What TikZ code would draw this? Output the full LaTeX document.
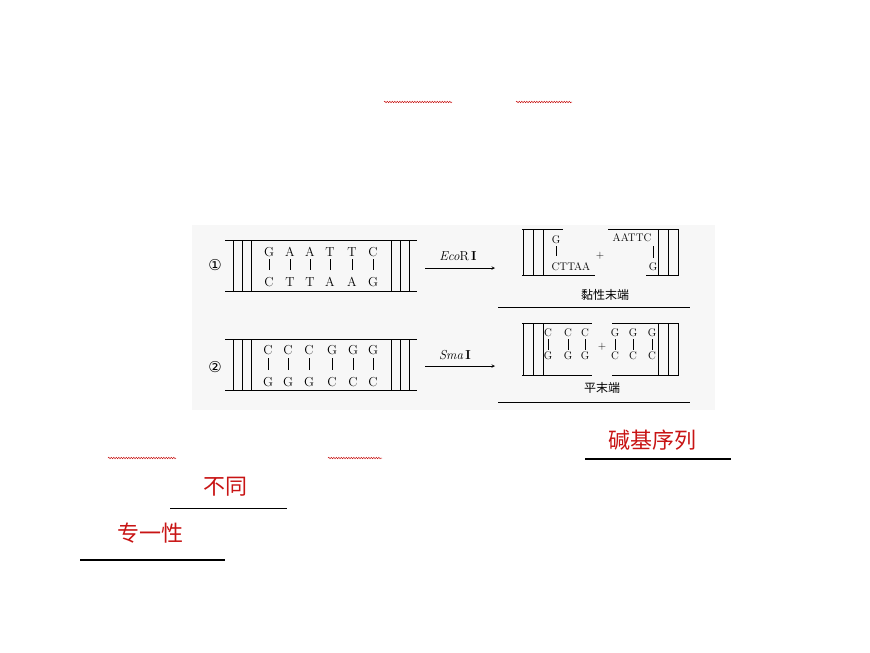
\documentclass[tikz,border=0pt]{standalone}
\usepackage{fontspec}
\newfontfamily\cjk{Noto Sans CJK SC}
\newfontfamily\dejavu{DejaVu Sans}
\usetikzlibrary{decorations.pathmorphing}
\definecolor{ansred}{RGB}{200,20,20}
\tikzset{
  base/.style={font=\fontsize{13}{13}\selectfont, inner sep=0pt},
  smallbase/.style={font=\fontsize{11}{11}\selectfont, inner sep=0pt},
  bond/.style={line width=0.6pt},
  strand/.style={line width=0.9pt},
  answer/.style={text=ansred, font=\cjk\fontsize{22}{22}\selectfont, inner sep=0pt},
  wavy/.style={ansred, line width=0.5pt, decorate, decoration={snake, amplitude=0.7pt, segment length=2.5pt}}
}
\begin{document}
\begin{tikzpicture}[x=1pt, y=-1pt]
\useasboundingbox (0,0) rectangle (870,653);
\fill[black!3] (192,225) rectangle (715,410);
% row 1: EcoR I
\node (c1) at (215,265) {\dejavu\fontsize{15}{15}\selectfont ①};
\draw[strand] (225,240.7) -- (417,240.7);
\draw[strand] (225,291) -- (417,291);
\foreach \x in {233.3,242.7,251.7,391.7,400.7,409.3}
  \draw[bond] (\x,240.7) -- (\x,291);
\foreach \x/\t/\b in {269/G/C,290/A/T,310/A/T,330/T/A,352/T/A,373/C/G} {
  \node[base] at (\x,251.7) {\t};
  \draw[bond] (\x,259) -- (\x,270);
  \node[base] at (\x,281.7) {\b};
}
\node (eco) at (458,256) {\fontsize{13}{13}\selectfont\textit{Eco}R\,\textbf{I}};
\draw[->, >=stealth, line width=0.6pt] (425,268) -- (495,268);
% sticky ends
\draw[strand] (522,229) -- (563,229);
\draw[strand] (522,275.7) -- (595,275.7);
\foreach \x in {523,533,543} \draw[bond] (\x,229) -- (\x,275.7);
\node[smallbase] (g1) at (556,240) {G};
\draw[bond] (g1.south) ++(0,2) -- ++(0,10);
\node[smallbase] (ct) at (571,267) {CTTAA};
\node[smallbase] (p1) at (600,256) {+};
\draw[strand] (608,229) -- (679,229);
\draw[strand] (646,275.7) -- (679,275.7);
\foreach \x in {658,668,678} \draw[bond] (\x,229) -- (\x,275.7);
\node[smallbase] (aa) at (632,238) {AATTC};
\draw[bond] (653,246) -- (653,258);
\node[smallbase] (g2) at (653,267) {G};
\node (sticky) at (605,295) {\cjk\fontsize{12}{12}\selectfont 黏性末端};
\draw[line width=0.9pt] (498,307.7) -- (690,307.7);
% row 2: Sma I
\node (c2) at (215,366.7) {\dejavu\fontsize{15}{15}\selectfont ②};
\draw[strand] (225,339) -- (417,339);
\draw[strand] (225,390) -- (417,390);
\foreach \x in {233.3,242.7,251.7,391.7,400.7,409.3}
  \draw[bond] (\x,339) -- (\x,390);
\foreach \x/\t/\b in {268/C/G,288/C/G,309/C/G,332/G/C,353/G/C,373/G/C} {
  \node[base] at (\x,350) {\t};
  \draw[bond] (\x,358) -- (\x,370);
  \node[base] at (\x,381.7) {\b};
}
\node (sma) at (455,355) {\fontsize{13}{13}\selectfont\textit{Sma}\,\textbf{I}};
\draw[->, >=stealth, line width=0.6pt] (425,366) -- (495,366);
% blunt ends
\draw[strand] (522,323) -- (592,323);
\draw[strand] (522,375) -- (592,375);
\foreach \x in {523,533,543} \draw[bond] (\x,323) -- (\x,375);
\foreach \x in {548,568,585} {
  \node[smallbase] at (\x,333) {C};
  \draw[bond] (\x,339) -- (\x,350);
  \node[smallbase] at (\x,356) {G};
}
\node[smallbase] (p2) at (602,347) {+};
\draw[strand] (612,323) -- (679,323);
\draw[strand] (612,375) -- (679,375);
\foreach \x in {658,668,678} \draw[bond] (\x,323) -- (\x,375);
\foreach \x in {615,633,652} {
  \node[smallbase] at (\x,333) {G};
  \draw[bond] (\x,339) -- (\x,350);
  \node[smallbase] at (\x,356) {C};
}
\node (blunt) at (602,388) {\cjk\fontsize{12}{12}\selectfont 平末端};
\draw[line width=0.9pt] (498,402.7) -- (690,402.7);
% answers
\node[answer] (ans1) at (652,440) {碱基序列};
\draw[line width=1.5pt] (585,459) -- (731,459);
\node[answer] (ans2) at (225,487) {不同};
\draw[line width=1.5pt] (170,508.5) -- (287,508.5);
\node[answer] (ans3) at (150,533) {专一性};
\draw[line width=1.5pt] (80,560) -- (225,560);
\draw[wavy] (384,102) -- (452,102);
\draw[wavy] (516,102) -- (572,102);
\draw[wavy] (108,458) -- (176,458);
\draw[wavy] (328,458) -- (382,458);
\end{tikzpicture}
\end{document}
